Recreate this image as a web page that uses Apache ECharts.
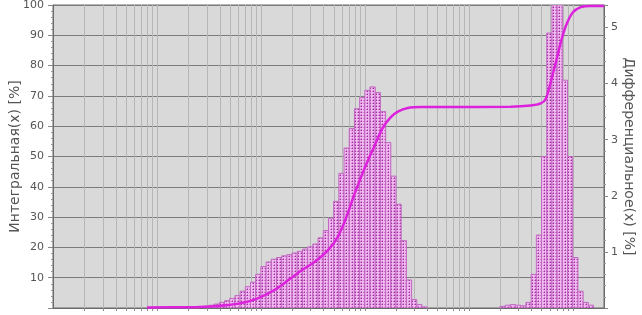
<!DOCTYPE html>
<html><head><meta charset="utf-8">
<script src="https://cdn.jsdelivr.net/npm/echarts@6/dist/echarts.min.js"></script>
<style>html,body{margin:0;padding:0;background:#fff}#c{width:642px;height:315px}</style>
</head><body><div id="c"></div>
<script>
// ---- data ----
const xMin = 0.01, xMax = 2000;           // size range (log axis)
const binsPerDecade = 20;                  // channel width
const diffFirstBin = 27;                   // channel index of first value below
const diffValues = [
  0.01,0.02,0.03,0.05,0.07,0.10,0.13,0.17,0.22,0.30,0.38,0.46,
  0.60,0.74,0.82,0.87,0.90,0.93,0.95,0.98,1.01,1.05,1.09,1.14,
  1.25,1.38,1.60,1.90,2.40,2.85,3.20,3.55,3.75,3.88,3.94,3.84,
  3.50,2.95,2.35,1.85,1.20,0.50,0.15,0.06,0.02,
  0,0,0,0,0,0,0,0,0,0,0,0,0,0,
  0.03,0.05,0.06,0.05,0.04,0.10,0.60,1.30,2.70,4.90,7.00,7.00,
  4.06,2.70,0.90,0.30,0.10,0.05
];
const cumSizes = [0.0802,0.212,0.330,0.460,0.643,0.935,1.39,1.94,2.43,3.23,4.41,5.50,6.56,7.84,9.78,12.2,14.9,17.8,20.8,25.9,34.5,53.8,253,394,492,550,614,687,767,857,1000,1194,1489,2000];
const cumValues = [0.2,0.25,0.5,0.9,1.6,3.2,6.2,9.8,12.3,15,19,23.5,29.5,37,45.5,53,59.5,63,64.8,66,66.3,66.3,66.4,66.8,67.5,69,74.5,81,87.6,93,97.5,99.3,99.7,99.7];
const gridDecades = [0.01,0.1,1,10,100,1000];
const gridMultipliers = [1,2,3,4,5,6,7,8,9];
const leftName = 'Интегральная(x) [%]';
const rightName = 'Дифференциальное(x) [%]';
const rightMax = 5.4;

// ---- build ----
const binRatio = Math.pow(10, 1 / binsPerDecade);
const barData = diffValues.map((v, i) => {
  const lo = xMin * Math.pow(binRatio, diffFirstBin + i);
  return [lo, lo * binRatio, v];
}).filter(d => d[2] > 0);
const gridVals = [];
gridDecades.forEach(d => gridMultipliers.forEach(m => { const v = d * m; if (v > xMin && v < xMax) gridVals.push([v]); }));

const tile = document.createElement('canvas');
tile.width = 3; tile.height = 3;
const tc = tile.getContext('2d');
tc.fillStyle = '#efb8ef'; tc.fillRect(0, 0, 3, 3);
tc.fillStyle = '#9c2c9c'; tc.fillRect(1, 1, 1, 1);
tc.fillStyle = '#d078d0'; tc.fillRect(0, 1, 1, 1); tc.fillRect(1, 0, 1, 1);
const pattern = { image: tile, repeat: 'repeat' };

const font = 'DejaVu Sans';
const chart = echarts.init(document.getElementById('c'), null, { renderer: 'canvas' });
chart.setOption({
  animation: false,
  backgroundColor: '#ffffff',
  grid: { left: 53, right: 38, top: 5, bottom: 7, containLabel: false, outerBoundsMode: 'none',
          show: true, backgroundColor: '#d9d9d9', borderColor: '#6a6a6a', borderWidth: 1 },
  xAxis: {
    type: 'log', logBase: 10, min: xMin, max: xMax,
    axisLabel: { show: false },
    axisLine: { show: true, lineStyle: { color: '#6a6a6a' } },
    axisTick: { show: false },
    splitLine: { show: false }
  },
  yAxis: [
    {
      type: 'value', position: 'left', min: 0, max: 100, interval: 10,
      name: leftName, nameLocation: 'middle', nameGap: 31, nameMoveOverlap: false,
      nameTextStyle: { fontFamily: font, fontSize: 14, color: '#555' },
      axisLabel: { fontFamily: font, fontSize: 11, color: '#555', margin: 9, formatter: v => v === 0 ? '' : String(v) },
      axisLine: { show: true, lineStyle: { color: '#6a6a6a' } },
      axisTick: { show: true, length: 5, lineStyle: { color: '#888' } },
      minorTick: { show: true, splitNumber: 5, length: 2, lineStyle: { color: '#999' } },
      splitLine: { show: true, lineStyle: { color: '#7c7c7c', width: 1 } }
    },
    {
      type: 'value', position: 'right', min: 0, max: rightMax, interval: 1,
      name: rightName, nameLocation: 'middle', nameGap: 18, nameRotate: -90, nameMoveOverlap: false,
      nameTextStyle: { fontFamily: font, fontSize: 14, color: '#555' },
      axisLabel: { fontFamily: font, fontSize: 11, color: '#555', margin: 7, showMaxLabel: false,
                   formatter: v => (v === 0 || v === rightMax) ? '' : String(v) },
      axisLine: { show: true, lineStyle: { color: '#6a6a6a' } },
      axisTick: { show: true, length: 4, lineStyle: { color: '#888' } },
      minorTick: { show: true, splitNumber: 5, length: 2, lineStyle: { color: '#999' } },
      splitLine: { show: false }
    }
  ],
  series: [
    {
      type: 'custom', silent: true, xAxisIndex: 0, yAxisIndex: 0, z: 1,
      data: gridVals,
      renderItem: (params, api) => {
        const v = api.value(0);
        const a = api.coord([v, 0]), b = api.coord([v, 100]);
        const x = Math.round(a[0]) + 0.5;
        return { type: 'group', children: [
          { type: 'line', shape: { x1: x, y1: a[1], x2: x, y2: b[1] }, style: { stroke: '#b6b6b6', lineWidth: 1 } },
          { type: 'line', shape: { x1: x, y1: a[1], x2: x, y2: a[1] + 3 }, style: { stroke: '#8a8a8a', lineWidth: 1 } }
        ] };
      }
    },
    {
      type: 'custom', silent: true, xAxisIndex: 0, yAxisIndex: 1, z: 3, clip: true,
      data: barData,
      encode: { x: [0, 1], y: 2 },
      renderItem: (params, api) => {
        const lo = api.value(0), hi = api.value(1), v = Math.min(api.value(2), rightMax);
        const a = api.coord([lo, 0]), b = api.coord([hi, v]);
        return { type: 'rect', shape: { x: a[0], y: b[1], width: b[0] - a[0], height: a[1] - b[1] },
                 style: { fill: pattern, stroke: '#c068c0', lineWidth: 1 } };
      }
    },
    {
      type: 'line', xAxisIndex: 0, yAxisIndex: 0, z: 5,
      data: cumSizes.map((s, i) => [s, cumValues[i]]),
      smooth: 0.3, showSymbol: false, symbol: 'none',
      lineStyle: { color: '#dd22dd', width: 2.5 }
    }
  ]
});
</script></body></html>
